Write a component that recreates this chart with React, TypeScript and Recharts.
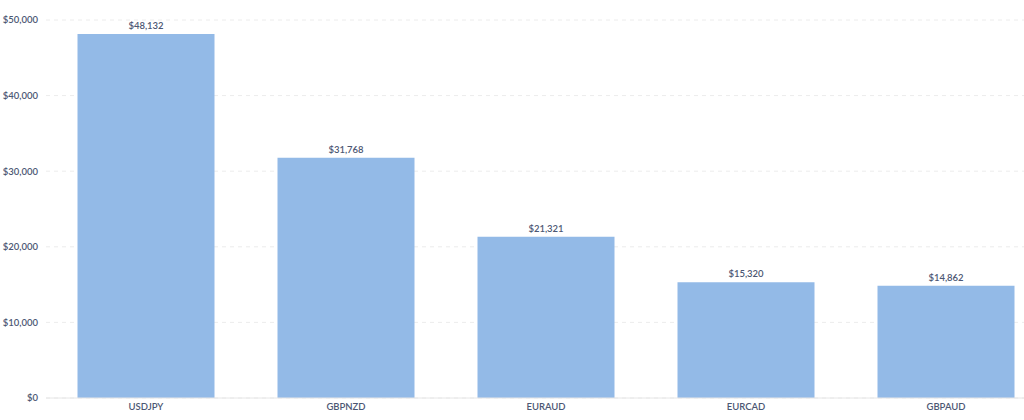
import React from 'react';
import { BarChart, Bar, XAxis, YAxis, CartesianGrid, LabelList } from 'recharts';

const categories = ['USDJPY', 'GBPNZD', 'EURAUD', 'EURCAD', 'GBPAUD'];
const values = [48132, 31768, 21321, 15320, 14862];
const yTicks = [0, 10000, 20000, 30000, 40000, 50000];

const data = categories.map((c, i) => ({ name: c, value: values[i] }));

const fmt = (v: number) => '$' + v.toLocaleString('en-US');

const textColor = '#4C5773';
const font = 'Lato, "Open Sans", sans-serif';

export default function App() {
  return (
    <div style={{ position: 'absolute', left: 0, top: 8, width: 1024, height: 412, overflow: 'hidden' }}>
      <BarChart
        width={1046}
        height={412}
        data={data}
        margin={{ top: 12, right: 0, bottom: 0, left: 8 }}
        barCategoryGap="15.75%"
      >
        <CartesianGrid vertical={false} stroke="#ECECEC" strokeDasharray="4 4" />
        <XAxis
          dataKey="name"
          height={22}
          tickLine={false}
          axisLine={{ stroke: '#E6E6E6' }}
          tickSize={0}
          tickMargin={5}
          tick={{ fill: textColor, fontSize: 9.5, fontFamily: font, fontWeight: 600 }}
        />
        <YAxis
          width={38}
          domain={[0, 50000]}
          ticks={yTicks}
          axisLine={false}
          tickLine={false}
          tickFormatter={fmt}
          tick={{ fill: textColor, fontSize: 9.5, fontFamily: font, fontWeight: 600 }}
        />
        <Bar dataKey="value" fill="#93BAE7" isAnimationActive={false}>
          <LabelList
            dataKey="value"
            position="top"
            offset={5}
            formatter={(v: any) => fmt(Number(v))}
            style={{ fill: textColor, fontSize: 9.5, fontFamily: font, fontWeight: 600 }}
          />
        </Bar>
      </BarChart>
    </div>
  );
}
